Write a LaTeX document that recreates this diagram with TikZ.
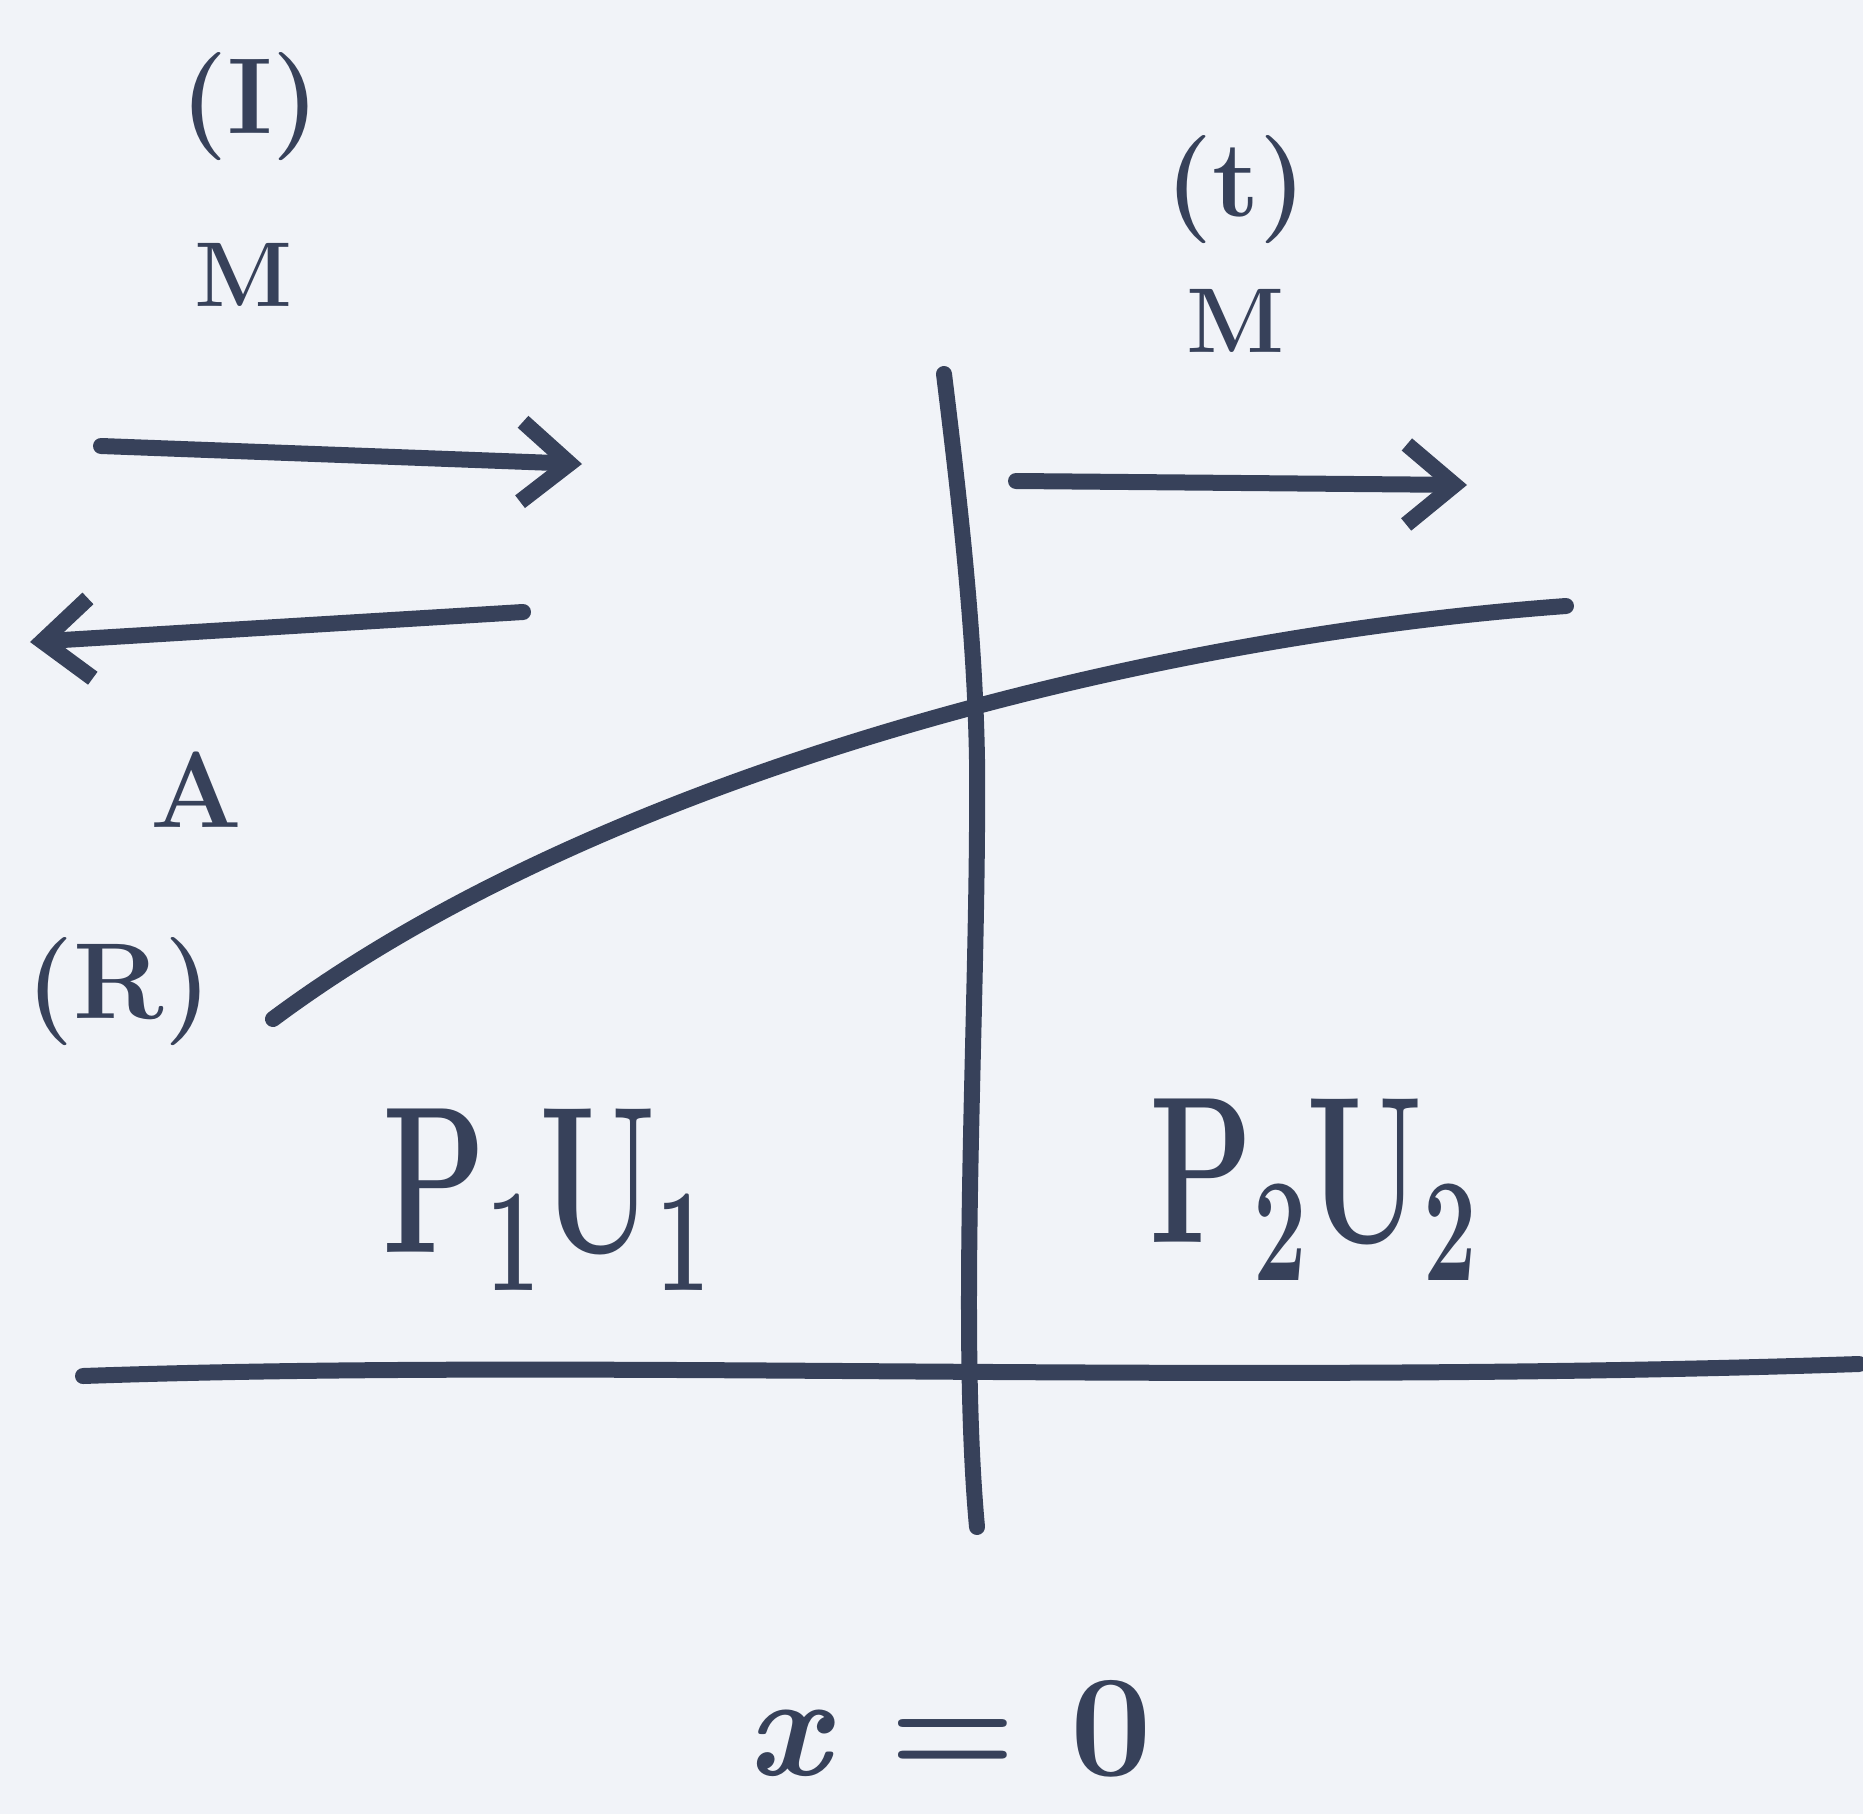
\documentclass[tikz,border=0pt]{standalone}
\usepackage{graphicx}
\usetikzlibrary{arrows.meta}
\definecolor{paper}{HTML}{F1F3F8}
\definecolor{ink}{HTML}{37415A}
\newcommand{\lowsub}[1]{\raisebox{-0.18em}{\fontsize{95}{95}\selectfont #1}}
\begin{document}
\begin{tikzpicture}[x=1pt,y=-1pt,
  pen/.style={draw=ink,line width=16pt,line cap=round,line join=round},
  wave/.style={pen,-{Straight Barb[length=48pt,width=80pt,line width=16pt]}},
  lbl/.style={text=ink,inner sep=0pt,anchor=center},
  small/.style={lbl,font=\fontsize{108}{108}\selectfont\bfseries},
  big/.style={lbl,font=\fontsize{135}{135}\selectfont\bfseries}]
\fill[paper] (0,0) rectangle (1863,1814);
\useasboundingbox (0,0) rectangle (1863,1814);
% coordinates
\coordinate (vtop) at (944,374);
\coordinate (vmid) at (977,760);
\coordinate (vbot) at (977,1527);
\coordinate (hl) at (83,1376);
\coordinate (hr) at (1859,1364);
\coordinate (cs) at (273,1019);
\coordinate (ce) at (1566,606);
\coordinate (a1s) at (101,446);
\coordinate (a1e) at (582,464);
\coordinate (a2s) at (523,612);
\coordinate (a2e) at (30,642);
\coordinate (a3s) at (1016,481);
\coordinate (a3e) at (1467,485);
% lines
\draw[pen] (vtop) .. controls (962,520) and (975,640) .. (vmid)
  .. controls (979,1000) and (958,1320) .. (vbot);
\draw[pen] (hl) .. controls (600,1358) and (1200,1386) .. (hr);
\draw[pen] (cs) .. controls (594,780) and (1129,638) .. (ce);
% arrows
\draw[wave] (a1s) -- (a1e);
\draw[wave] (a2s) -- (a2e);
\draw[wave] (a3s) -- (a3e);
% labels
\node[small] (inc) at (250,107) {(I)};
\node[small,font=\fontsize{92}{92}\selectfont\bfseries] (mI) at (244,275) {M};
\node[small] (tr) at (1236,190) {(t)};
\node[small,font=\fontsize{92}{92}\selectfont\bfseries] (mT) at (1236,321) {M};
\node[small] (aR) at (196,790) {A};
\node[small] (re) at (119,992) {(R)};
\node[big] (s1) at (546,1200) {\scalebox{1}[1.55]{P\lowsub{1}U\lowsub{1}}};
\node[big] (s2) at (1313,1190) {\scalebox{1}[1.55]{P\lowsub{2}U\lowsub{2}}};
\node[lbl,font=\fontsize{145}{145}\selectfont\bfseries] (x0) at (950,1729) {\textit{x} = 0};
\end{tikzpicture}
\end{document}
